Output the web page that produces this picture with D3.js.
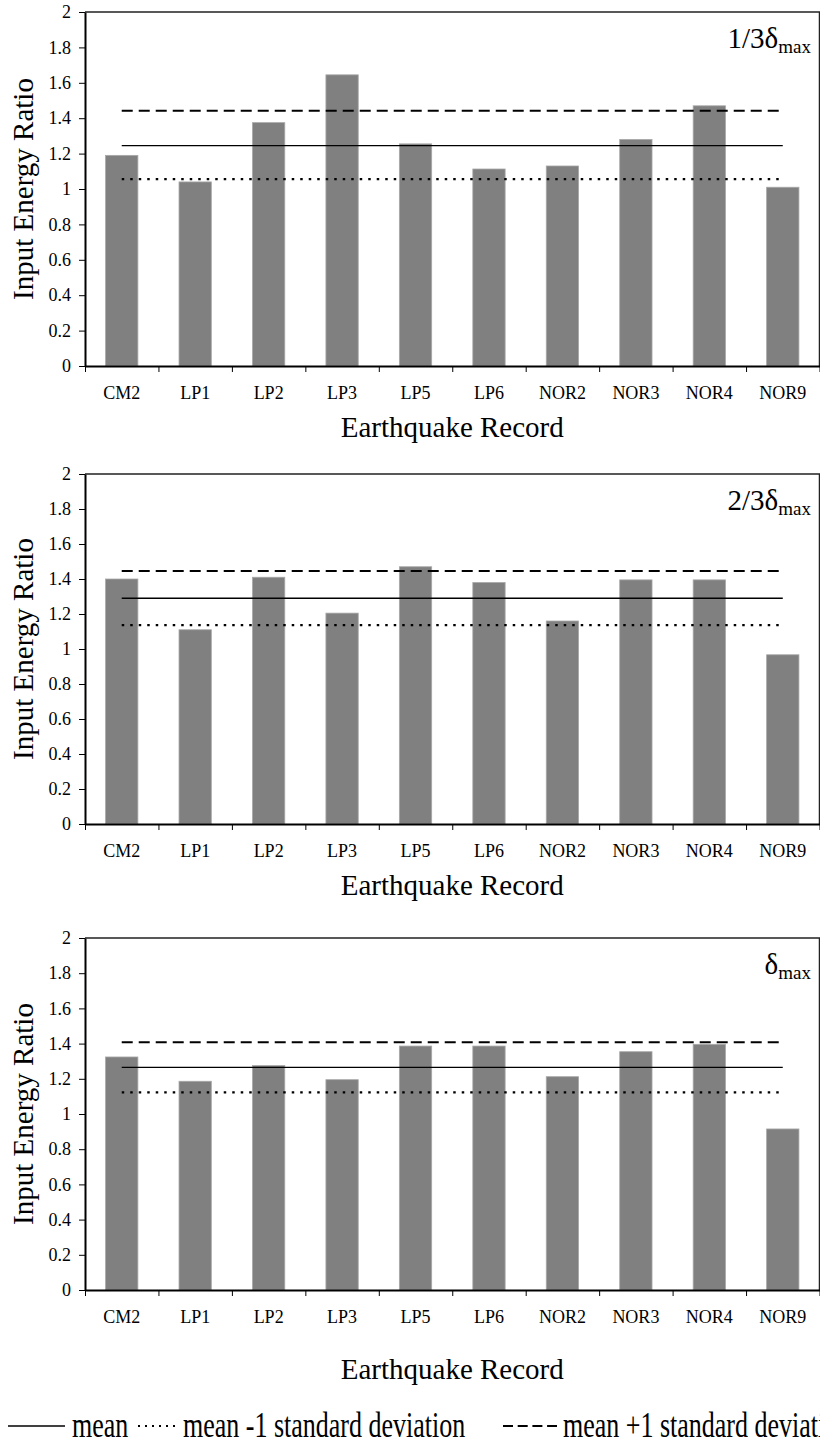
<!DOCTYPE html>
<html>
<head>
<meta charset="utf-8">
<script src="https://cdn.jsdelivr.net/npm/d3@7"></script>
<style>
body { margin: 0; background: #fff; }
text { font-family: "Liberation Serif", "Times New Roman", serif; fill: #000; }
</style>
</head>
<body>
<div id="chart"></div>
<script>
// values
var records = ["CM2", "LP1", "LP2", "LP3", "LP5", "LP6", "NOR2", "NOR3", "NOR4", "NOR9"];
var ratioThird    = [1.19, 1.04, 1.375, 1.645, 1.255, 1.113, 1.13, 1.28, 1.47, 1.01];
var ratioTwoThird = [1.40, 1.11, 1.41, 1.205, 1.47, 1.38, 1.16, 1.395, 1.395, 0.967];
var ratioMax      = [1.324, 1.186, 1.275, 1.195, 1.386, 1.386, 1.212, 1.354, 1.396, 0.915];
var meanLine = [1.245, 1.29, 1.265];
var minusSd  = [1.056, 1.137, 1.123];
var plusSd   = [1.442, 1.446, 1.407];
var yTicks = [0, 0.2, 0.4, 0.6, 0.8, 1, 1.2, 1.4, 1.6, 1.8, 2];
var panelPrefix = ["1/3", "2/3", ""];
var legendNames = ["mean", "mean -1 standard deviation", "mean +1 standard deviation"];

var width = 820, height = 1445;
var left = 85, right = 819.5;
var font = "'Liberation Serif', 'Times New Roman', serif";

// layout of each panel (pixels)
var panels = [
    { top: 12,  bottom: 366,  titleY: 437 },
    { top: 474, bottom: 824,  titleY: 895 },
    { top: 938, bottom: 1290, titleY: 1379 }
];

var lineStyles = [
    { dash: null,    width: 1.4 },
    { dash: "2.5,6", width: 2.2 },
    { dash: "11,6",  width: 2 }
];

var svg = d3.select("#chart")
    .append("svg")
        .attr("width", width)
        .attr("height", height);

var x = d3.scaleBand()
    .domain(records)
    .range([left, right])
    .paddingInner(0.56)
    .paddingOuter(0.28);

var xCat = d3.scaleBand()
    .domain(records)
    .range([left, right]);

var xEdge = d3.scaleLinear()
    .domain([0, records.length])
    .range([left, right]);

function drawPanel(i, values){
    var p = panels[i];
    var g = svg.append("g").attr("class", "panel-" + i);

    var y = d3.scaleLinear()
        .domain([0, 2])
        .range([p.bottom, p.top]);

    // frame top and right
    g.append("path")
        .attr("d", "M" + left + "," + p.top + "H" + right + "V" + p.bottom)
        .attr("fill", "none")
        .attr("stroke", "#222")
        .attr("stroke-width", 1.5);

    g.append("g")
        .selectAll("rect")
        .data(values)
        .enter()
        .append("rect")
            .attr("x", function(d, j){ return x(records[j]); })
            .attr("y", function(d){ return y(d); })
            .attr("width", x.bandwidth())
            .attr("height", function(d){ return y(0) - y(d); })
            .attr("fill", "#808080")
            .attr("stroke", "#a8a8a8")
            .attr("stroke-width", 0.8);

    var x1 = xCat(records[0]) + xCat.bandwidth()/2,
        x2 = xCat(records[records.length-1]) + xCat.bandwidth()/2;

    var levels = [meanLine[i], minusSd[i], plusSd[i]];
    levels.forEach(function(v, k){
        g.append("line")
            .attr("x1", x1)
            .attr("x2", x2)
            .attr("y1", y(v))
            .attr("y2", y(v))
            .attr("stroke", "#000")
            .attr("stroke-width", lineStyles[k].width)
            .attr("stroke-dasharray", lineStyles[k].dash);
    });

    // y axis
    var yAxis = g.append("g")
        .attr("transform", "translate(" + left + ",0)")
        .call(d3.axisLeft(y)
            .tickValues(yTicks)
            .tickSize(6)
            .tickSizeOuter(0)
            .tickPadding(8)
            .tickFormat(function(d){ return String(Math.round(d*10)/10); }));
    yAxis.attr("font-family", font).attr("font-size", 18);
    yAxis.select(".domain").attr("stroke-width", 2);

    // x axis: ticks on the category edges, labels in the middle
    var xAxis = g.append("g")
        .attr("transform", "translate(0," + y(0) + ")")
        .call(d3.axisBottom(xEdge)
            .ticks(records.length)
            .tickSize(6)
            .tickSizeOuter(0)
            .tickFormat(""));
    xAxis.select(".domain").attr("stroke-width", 2);

    var xLabels = g.append("g")
        .attr("transform", "translate(0," + y(0) + ")")
        .call(d3.axisBottom(xCat)
            .tickSize(0)
            .tickPadding(20));
    xLabels.attr("font-family", font).attr("font-size", 18);
    xLabels.select(".domain").remove();

    g.append("text")
        .attr("x", (left + right)/2)
        .attr("y", p.titleY)
        .attr("text-anchor", "middle")
        .attr("font-size", 29)
        .text("Earthquake Record");

    g.append("text")
        .attr("transform", "translate(33," + (p.top + p.bottom)/2 + ") rotate(-90)")
        .attr("text-anchor", "middle")
        .attr("font-size", 29)
        .text("Input Energy Ratio");

    var lab = g.append("text")
        .attr("x", 811)
        .attr("y", p.top + 36)
        .attr("text-anchor", "end")
        .attr("font-size", 29);
    lab.append("tspan").text(panelPrefix[i] + "\u03b4");
    lab.append("tspan")
        .attr("font-size", 19)
        .attr("dy", 5)
        .text("max");
}

drawPanel(0, ratioThird);
drawPanel(1, ratioTwoThird);
drawPanel(2, ratioMax);

// legend along the bottom
var legendItems = [
    { x1: 8,   x2: 65,  tx: 72 },
    { x1: 138, x2: 177, tx: 183 },
    { x1: 503, x2: 557, tx: 563 }
];
var legendDash = [null, "2,5", "10,4.7"];

var legend = svg.append("g").attr("class", "legend");
legendItems.forEach(function(d, k){
    legend.append("line")
        .attr("x1", d.x1)
        .attr("x2", d.x2)
        .attr("y1", 1426)
        .attr("y2", 1426)
        .attr("stroke", "#000")
        .attr("stroke-width", k == 0 ? 1.4 : 2)
        .attr("stroke-dasharray", legendDash[k]);
    legend.append("text")
        .attr("transform", "translate(" + d.tx + ",1437) scale(1,1.4)")
        .attr("font-size", 26)
        .text(legendNames[k]);
});
</script>
</body>
</html>
